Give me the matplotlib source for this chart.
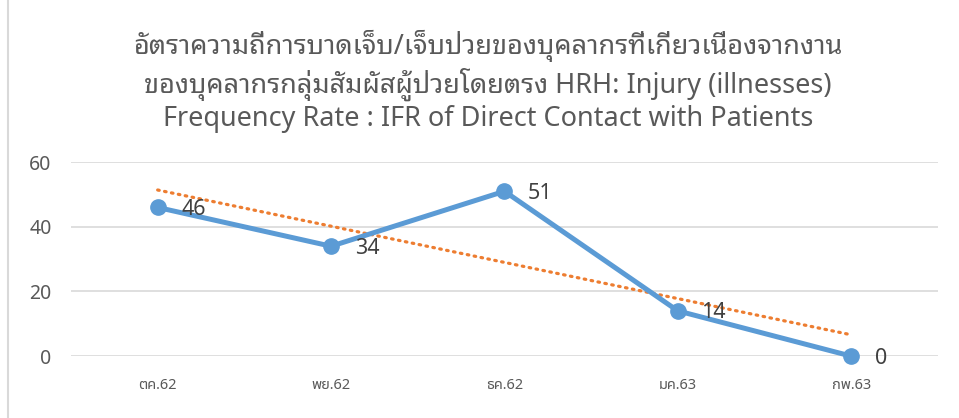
import numpy as np
import matplotlib.pyplot as plt
from matplotlib.lines import Line2D

plt.rcParams['font.family'] = ['Noto Sans Thai Looped', 'Noto Sans', 'DejaVu Sans']

months = ['ตค.62', 'พย.62', 'ธค.62', 'มค.63', 'กพ.63']
ifr = [46, 34, 51, 14, 0]
title = ('อัตราความถี่การบาดเจ็บ/เจ็บป่วยของบุคลากรที่เกี่ยวเนื่องจากงาน\n'
         'ของบุคลากรกลุ่มสัมผัสผู้ป่วยโดยตรง HRH: Injury (illnesses)\n'
         'Frequency Rate : IFR of Direct Contact with Patients')

x = np.arange(len(months))
slope, icpt = np.polyfit(x, ifr, 1)

fig = plt.figure(figsize=(9.59, 4.18), dpi=100)
ax = fig.add_axes([0.074, 0.148, 0.904, 0.464])

ax.plot(x, slope * x + icpt, color='#ED7D31', lw=2.3, ls=(0, (0.5, 1.7)),
        dash_capstyle='round', zorder=2)
ax.plot(x, ifr, color='#5B9BD5', lw=3.6, marker='o', ms=11, clip_on=False, zorder=3)
for xi, v in zip(x, ifr):
    ax.annotate(str(v), (xi, v), xytext=(17, -1.5), textcoords='offset points',
                ha='left', va='center', fontsize=15.5, color='#404040')

ax.set_xlim(-0.5, len(months) - 0.5)
ax.set_ylim(0, 60)
ax.set_yticks([0, 20, 40, 60])
ax.set_xticks(x)
ax.set_xticklabels(months, family=['Noto Sans Thai', 'Noto Sans'])
ax.grid(axis='y', color='#D9D9D9', lw=1.2)
ax.set_axisbelow(True)
for s in ax.spines.values():
    s.set_visible(False)
ax.tick_params(axis='y', length=0, pad=14, labelsize=14, labelcolor='#595959')
ax.tick_params(axis='x', length=0, pad=16, labelsize=10.5, labelcolor='#595959')

fig.text(0.509, 0.805, title, ha='center', va='center', fontsize=19.5,
         color='#595959', linespacing=1.2)
fig.add_artist(Line2D([8 / 959, 8 / 959], [0, 1], color='#D9D9D9', lw=1.5))

fig.savefig('out.png', dpi=100)
